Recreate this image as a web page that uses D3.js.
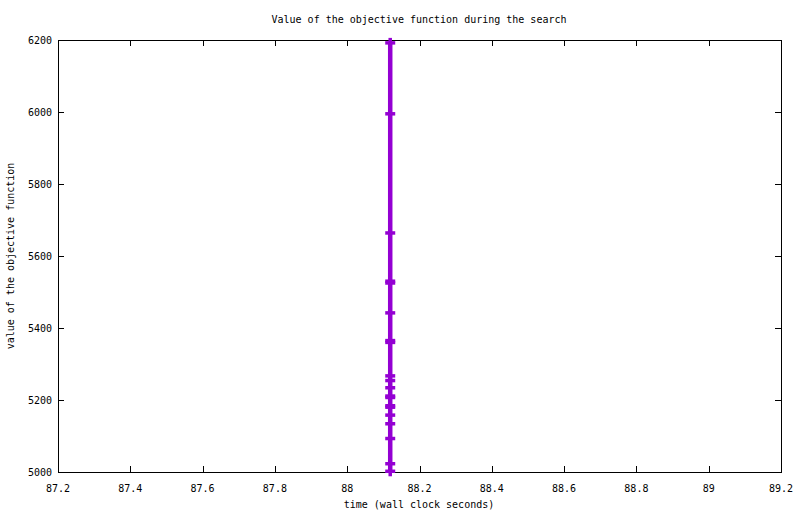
<!DOCTYPE html>
<html>
<head>
<meta charset="utf-8">
<script src="https://cdn.jsdelivr.net/npm/d3@7"></script>
<style>
  body { margin: 0; background: #fff; }
  text { font-family: "DejaVu Sans Mono", monospace; font-size: 10px; fill: #000; }
</style>
</head>
<body>
<script>
// objective values found during the search (all logged at ~same wall clock time)
var times = [88.119, 88.119, 88.119, 88.119, 88.119, 88.119, 88.119, 88.119, 88.119, 88.119,
             88.119, 88.119, 88.119, 88.119, 88.119, 88.119, 88.119, 88.119, 88.119, 88.119];
var values = [6192, 5995, 5664, 5530, 5525, 5442, 5365, 5360, 5267, 5254,
              5234, 5211, 5207, 5184, 5180, 5158, 5134, 5093, 5023, 5002];
var xTicks = [87.2, 87.4, 87.6, 87.8, 88, 88.2, 88.4, 88.6, 88.8, 89, 89.2];
var yTicks = [5000, 5200, 5400, 5600, 5800, 6000, 6200];

var W = 800, H = 514;
var pLeft = 58, pRight = 781, pTop = 40, pBottom = 472;

var svg = d3.select("body")
  .append("svg")
    .attr("width", W)
    .attr("height", H);

var x = d3.scaleLinear().domain([87.2, 89.2]).range([pLeft, pRight]);
var y = d3.scaleLinear().domain([5000, 6200]).range([pBottom, pTop]);

// ticks on all four sides, pointing inward
var tk = 6;
xTicks.forEach(function(t) {
  var px = Math.round(x(t)) + 0.5;
  svg.append("line").attr("x1", px).attr("x2", px).attr("y1", pBottom).attr("y2", pBottom - tk).attr("stroke", "#000");
  svg.append("line").attr("x1", px).attr("x2", px).attr("y1", pTop).attr("y2", pTop + tk).attr("stroke", "#000");
  svg.append("text").attr("x", x(t)).attr("y", pBottom + 20)
    .attr("text-anchor", "middle").text(d3.format("")(t));
});
yTicks.forEach(function(t) {
  var py = Math.round(y(t)) + 0.5;
  svg.append("line").attr("x1", pLeft).attr("x2", pLeft + tk).attr("y1", py).attr("y2", py).attr("stroke", "#000");
  svg.append("line").attr("x1", pRight).attr("x2", pRight - tk).attr("y1", py).attr("y2", py).attr("stroke", "#000");
  svg.append("text").attr("x", pLeft - 6).attr("y", y(t) + 3.5)
    .attr("text-anchor", "end").text(t);
});

// border
svg.append("rect")
  .attr("x", pLeft + 0.5).attr("y", pTop + 0.5)
  .attr("width", pRight - pLeft).attr("height", pBottom - pTop)
  .attr("fill", "none").attr("stroke", "#000");

// data line + "+" points
var pts = times.map(function(t, i) { return [t, values[i]]; });
var col = "#9400d3";
svg.append("path")
  .datum(pts)
  .attr("d", d3.line().x(function(d) { return x(d[0]); }).y(function(d) { return y(d[1]); }))
  .attr("fill", "none").attr("stroke", col).attr("stroke-width", 4.5);

var pg = svg.append("g").attr("stroke", col).attr("stroke-width", 3.5);
pts.forEach(function(d) {
  var cx = x(d[0]), cy = y(d[1]);
  pg.append("line").attr("x1", cx - 5).attr("x2", cx + 5).attr("y1", cy).attr("y2", cy);
  pg.append("line").attr("x1", cx).attr("x2", cx).attr("y1", cy - 5).attr("y2", cy + 5);
});

// titles
svg.append("text").attr("x", 419).attr("y", 23).attr("text-anchor", "middle")
  .text("Value of the objective function during the search");
svg.append("text").attr("x", 419).attr("y", 508).attr("text-anchor", "middle")
  .text("time (wall clock seconds)");
svg.append("text").attr("transform", "translate(14," + ((pTop + pBottom) / 2) + ") rotate(-90)")
  .attr("text-anchor", "middle")
  .text("value of the objective function");
</script>
</body>
</html>
